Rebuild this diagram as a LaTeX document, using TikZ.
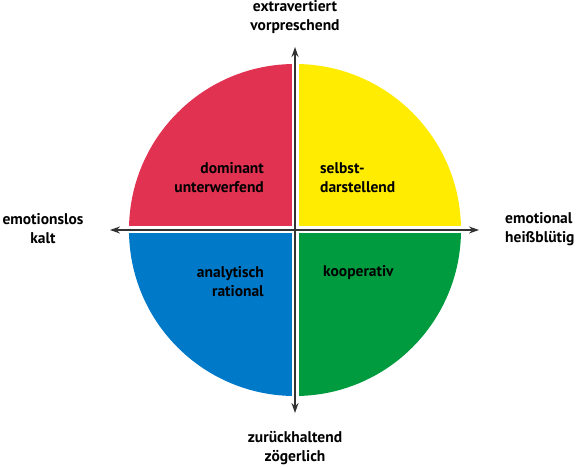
\documentclass[tikz,border=0pt]{standalone}
\usepackage{fontspec}
\setmainfont{PT Sans}
\usetikzlibrary{positioning,calc,arrows.meta}

\definecolor{qred}{RGB}{226,50,82}
\definecolor{qyellow}{RGB}{255,236,0}
\definecolor{qblue}{RGB}{0,121,200}
\definecolor{qgreen}{RGB}{0,155,62}

\tikzset{
  axis/.style={line width=1.5pt, draw=black!80, {Stealth[length=10pt,width=7pt]}-{Stealth[length=10pt,width=7pt]}},
  pole/.style={font=\fontsize{15.5}{19}\selectfont\bfseries, align=center, inner sep=0pt},
  quad/.style={font=\fontsize{15.5}{19}\selectfont\bfseries, inner sep=0pt}
}

\begin{document}
\begin{tikzpicture}[x=1pt, y=1pt]
        \useasboundingbox (0,0) rectangle (578,466);
        \coordinate (c) at (295,236);
        % quadrants, cut by a white cross
        \begin{scope}
          \clip (c) circle (166);
          \fill[qred]    ($(c)+(-170,3.5)$)  rectangle ($(c)+(-3.5,170)$);
          \fill[qyellow] ($(c)+(3.5,3.5)$)   rectangle ($(c)+(170,170)$);
          \fill[qblue]   ($(c)+(-170,-3.5)$) rectangle ($(c)+(-3.5,-170)$);
          \fill[qgreen]  ($(c)+(3.5,-3.5)$)  rectangle ($(c)+(170,-170)$);
        \end{scope}
        \coordinate (top) at (295,419);
        \coordinate (bottom) at (295,53);
        \coordinate (left) at (110,236);
        \coordinate (right) at (479,236);
        \draw[axis] (bottom) -- (top);
        \draw[axis] (left) -- (right);
        \node[pole] (extra) at (295,449) {extravertiert\\vorpreschend};
        \node[pole] (zurueck) at (295,18) {zurückhaltend\\zögerlich};
        \node[pole] (kalt) at (43,237) {emotionslos\\kalt};
        \node[pole, align=left, anchor=west] (heiss) at (505,237) {emotional\\heißblütig};
        \node[quad, align=right, anchor=east] (dominant) at (264,288) {dominant\\unterwerfend};
        \node[quad, align=left, anchor=west] (selbst) at (320,288) {selbst-\\darstellend};
        \node[quad, align=right, anchor=east] (analyt) at (264,184) {analytisch\\rational};
        \node[quad, anchor=west] (koop) at (323,193) {kooperativ};
    \end{tikzpicture}
\end{document}
